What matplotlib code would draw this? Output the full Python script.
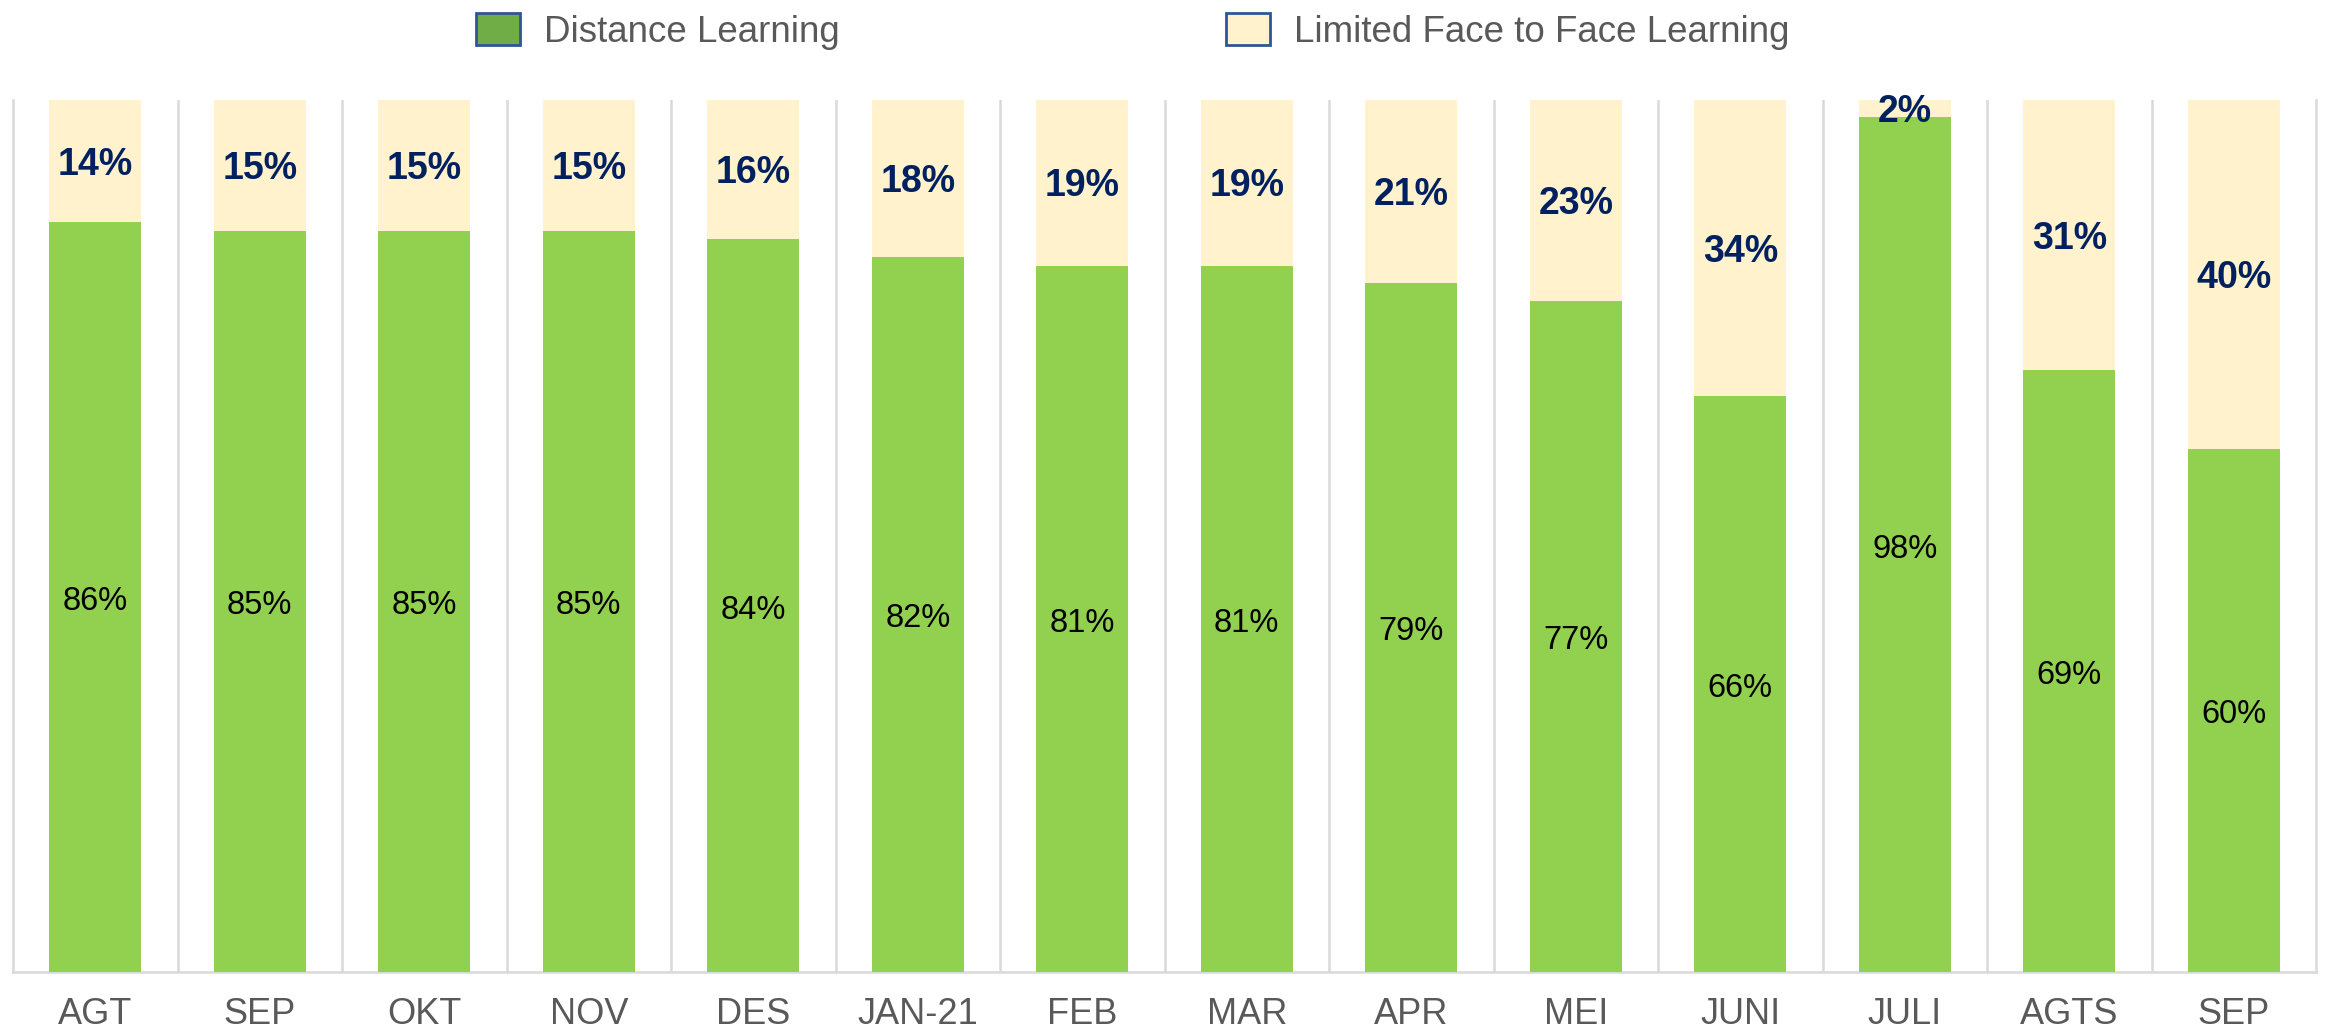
import matplotlib.pyplot as plt
import numpy as np
from matplotlib.patches import Patch

# -----------------------------
# DATA
# -----------------------------
months = ["AGT", "SEP", "OKT", "NOV", "DES", "JAN-21", "FEB",
          "MAR", "APR", "MEI", "JUNI", "JULI", "AGTS", "SEP"]
distance = [86, 85, 85, 85, 84, 82, 81, 81, 79, 77, 66, 98, 69, 60]
face_to_face = [14, 15, 15, 15, 16, 18, 19, 19, 21, 23, 34, 2, 31, 40]

# -----------------------------
# STYLE
# -----------------------------
plt.rcParams['font.family'] = ['Liberation Sans', 'DejaVu Sans']
green = "#92D050"
yellow = "#FFF2CC"
navy = "#002060"
grey_txt = "#595959"
grid_col = "#D9D9D9"

fig = plt.figure(figsize=(23.26, 10.35), dpi=100)
ax = fig.add_axes([0.0056, 0.0609, 0.9901, 0.8425])

x = np.arange(len(months))
bw = 0.56

ax.bar(x, distance, width=bw, color=green, zorder=3)
ax.bar(x, face_to_face, width=bw, bottom=distance, color=yellow, zorder=3)

# value labels (slightly below segment centre, like the original)
for xi, d, f in zip(x, distance, face_to_face):
    ax.text(xi, d / 2 - 0.5, f"{d}%", ha='center', va='center',
            fontsize=23.5, color='black', zorder=4)
    ax.text(xi, d + f / 2 - 0.4, f"{f}%", ha='center', va='center',
            fontsize=27, fontweight='bold', color=navy, zorder=4)

# -----------------------------
# AXES
# -----------------------------
ax.set_xlim(-0.5, len(months) - 0.5)
ax.set_ylim(0, 100)
ax.set_yticks([])
ax.set_xticks(x)
ax.set_xticklabels(months, fontsize=26, color=grey_txt)
ax.tick_params(axis='x', length=0, pad=18)
ax.set_xticks(np.arange(0.5, len(months) - 1, 1), minor=True)
ax.tick_params(axis='x', which='minor', length=0)
ax.grid(axis='x', which='minor', color=grid_col, linewidth=1.8, zorder=0)

for side in ['left', 'right', 'bottom']:
    ax.spines[side].set_color(grid_col)
    ax.spines[side].set_linewidth(1.8)
ax.spines['top'].set_visible(False)

# -----------------------------
# LEGEND
# -----------------------------
handles = [
    Patch(facecolor="#70AD47", edgecolor="#2F5597", linewidth=2, label="Distance Learning"),
    Patch(facecolor=yellow, edgecolor="#2F5597", linewidth=2, label="Limited Face to Face Learning"),
]
leg = fig.legend(handles=handles, loc='center', bbox_to_anchor=(0.487, 0.97),
                 ncol=2, frameon=False, fontsize=26.5, handlelength=1.2,
                 handleheight=1.0, handletextpad=0.65, columnspacing=10.5)
for t in leg.get_texts():
    t.set_color(grey_txt)

fig.savefig("out.png", dpi=100)
